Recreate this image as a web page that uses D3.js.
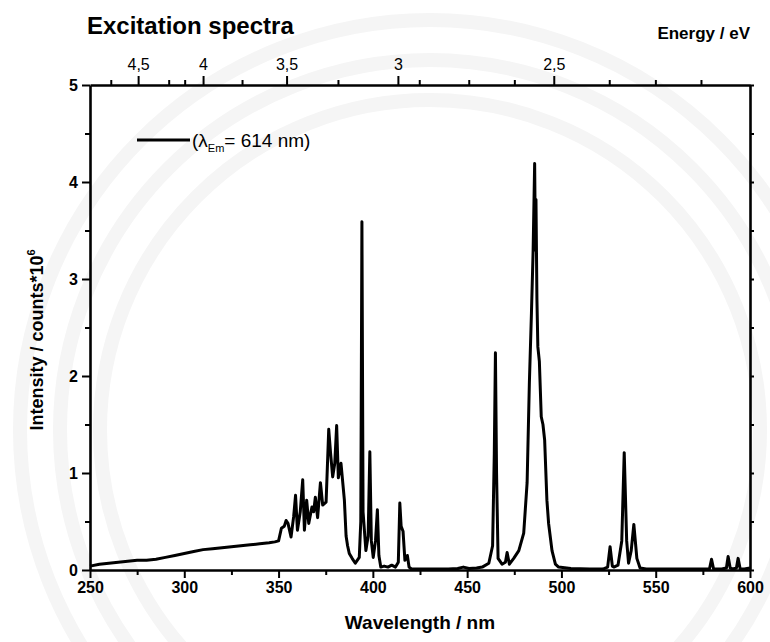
<!DOCTYPE html>
<html>
<head>
<meta charset="utf-8">
<script src="https://cdn.jsdelivr.net/npm/d3@7"></script>
<style>
  body { margin: 0; background: #fff; }
  svg { font-family: "Liberation Sans", Arial, sans-serif; }
</style>
</head>
<body>
<div id="chart"></div>
<script>
// spectrum: wavelength (nm) / intensity (counts*10^6)
const wavelength = [250,255,260,265,270,275,280,285,290,295,300,305,310,315,320,325,330,335,340,345,348,350,
  351.5,353,354,355,356.6,358,359,360,361.5,362.8,363.7,364.9,366,367.7,368.6,369.5,370.7,372.2,373.4,375.2,
  376.6,377.6,378.7,379.8,380.8,381.7,383.1,384.9,385.8,386.6,387.5,389,390.7,392.8,393.6,394.2,394.8,396.3,
  397.5,398.4,399.2,400.2,401.4,402.4,403.2,404.2,406,408,410,412,413.5,414.3,415,416,417,418.3,419.2,420.5,
  425,430,440,445,448,451,455,458,461.5,463.5,464.4,465,465.6,466.4,468.5,470.3,471.2,472.4,474.7,477.4,480,
  481.8,483,484.1,485,485.8,486.2,486.5,487,487.5,488.3,489.3,490.2,491.1,492.3,493.2,495,496.8,498.5,505,
  515,522,524.5,525.8,527,527.8,530,532,533.3,534.6,535.6,537,538.4,540,541.7,545,560,575,578.5,579.6,580.7,
  585,587.5,588.4,589.5,591,592.8,593.7,594.8,597,600];
const intensity = [0.04,0.06,0.07,0.08,0.09,0.10,0.10,0.11,0.13,0.15,0.17,0.19,0.21,0.22,0.23,0.24,0.25,0.26,0.27,0.28,0.29,0.30,
  0.43,0.45,0.51,0.48,0.34,0.55,0.77,0.41,0.60,0.93,0.41,0.72,0.48,0.65,0.60,0.75,0.54,0.90,0.67,0.70,
  1.45,1.20,0.96,1.10,1.49,0.95,1.10,0.72,0.35,0.25,0.17,0.12,0.07,0.13,0.50,3.59,0.60,0.20,
  0.35,1.22,0.30,0.13,0.30,0.62,0.15,0.03,0.04,0.03,0.05,0.03,0.08,0.69,0.45,0.40,0.10,0.15,0.03,0.01,
  0.01,0.01,0.01,0.015,0.03,0.015,0.02,0.03,0.07,0.25,1.20,2.24,1.00,0.12,0.06,0.08,0.18,0.06,0.12,0.20,0.38,
  0.90,1.93,2.65,3.30,4.19,3.30,3.82,2.80,2.30,2.15,1.58,1.50,1.34,0.72,0.48,0.20,0.06,0.03,0.015,
  0.01,0.01,0.03,0.24,0.04,0.03,0.05,0.30,1.21,0.30,0.07,0.20,0.47,0.12,0.02,0.01,0.01,0.01,0.01,0.11,0.01,
  0.01,0.02,0.14,0.02,0.01,0.02,0.12,0.01,0.01,0.02];

const xTicks = [250, 300, 350, 400, 450, 500, 550, 600];
const yTicks = [0, 1, 2, 3, 4, 5];
const energyMajor = [4.5, 4, 3.5, 3, 2.5];
const energyMinor = [4.75, 4.25, 4.13, 3.75, 3.25, 2.92, 2.75, 2.61, 2.36, 2.255, 2.16];
const hc = 1239.84; // eV*nm

const width = 770, height = 642;
const margin = {left: 90, right: 20, top: 85, bottom: 72};

const svg = d3.select("#chart").append("svg").attr("width", width).attr("height", height);

// faint watermark arcs
const wm = svg.append("g").attr("fill", "none").attr("stroke", "#f5f5f5");
[330, 370, 410].forEach(function (r) {
  wm.append("circle").attr("cx", 430).attr("cy", 430).attr("r", r).attr("stroke-width", 14);
});

var xScale = d3.scaleLinear().domain([250, 600]).range([margin.left, width - margin.right]);
var yScale = d3.scaleLinear().domain([0, 5]).range([height - margin.bottom, margin.top]);

// bottom axis
var gx = svg.append("g").attr("transform", "translate(0," + yScale(0) + ")")
  .call(d3.axisBottom(xScale).tickValues(xTicks).tickSize(8).tickSizeOuter(0).tickPadding(4));
svg.append("g").attr("transform", "translate(0," + yScale(0) + ")")
  .call(d3.axisBottom(xScale).tickValues(d3.range(275, 600, 50)).tickSize(5).tickFormat(""))
  .select(".domain").remove();

// left axis
var gy = svg.append("g").attr("transform", "translate(" + xScale(250) + ",0)")
  .call(d3.axisLeft(yScale).tickValues(yTicks).tickSize(8).tickSizeOuter(0).tickPadding(4).tickFormat(d3.format("d")));
svg.append("g").attr("transform", "translate(" + xScale(250) + ",0)")
  .call(d3.axisLeft(yScale).tickValues([0.5, 1.5, 2.5, 3.5, 4.5]).tickSize(5).tickFormat(""))
  .select(".domain").remove();

// right axis
svg.append("g").attr("transform", "translate(" + xScale(600) + ",0)")
  .call(d3.axisRight(yScale).tickValues(d3.range(0, 5.01, 0.5)).tickSize(4).tickSizeOuter(0).tickFormat(""));

// top axis, energy in eV
var fmtE = function (w) { return String(+(hc / w).toFixed(2)).replace(".", ","); };
var gt = svg.append("g").attr("transform", "translate(0," + yScale(5) + ")")
  .call(d3.axisTop(xScale).tickValues(energyMajor.map(function (e) { return hc / e; }))
    .tickSize(9).tickSizeOuter(0).tickPadding(6).tickFormat(fmtE));
svg.append("g").attr("transform", "translate(0," + yScale(5) + ")")
  .call(d3.axisTop(xScale).tickValues(energyMinor.map(function (e) { return hc / e; })).tickSize(5).tickFormat(""))
  .select(".domain").remove();

svg.selectAll(".domain").attr("stroke-width", 2.6).attr("stroke", "#000");
svg.selectAll(".tick line").attr("stroke-width", 2).attr("stroke", "#000");
gx.selectAll("text").attr("font-size", 16).attr("font-weight", "bold").attr("fill", "#000");
gy.selectAll("text").attr("font-size", 16).attr("font-weight", "bold").attr("fill", "#000");
gt.selectAll("text").attr("font-size", 16).attr("fill", "#000");

// spectrum
var points = wavelength.map(function (w, i) { return [w, intensity[i]]; });
svg.append("path").datum(points)
  .attr("fill", "none").attr("stroke", "#000").attr("stroke-width", 3).attr("stroke-linejoin", "round")
  .attr("d", d3.line().x(function (d) { return xScale(d[0]); }).y(function (d) { return yScale(d[1]); }));

// legend
svg.append("line").attr("x1", 137).attr("x2", 190).attr("y1", 140).attr("y2", 140)
  .attr("stroke", "#000").attr("stroke-width", 3);
var lg = svg.append("text").attr("x", 192).attr("y", 147).attr("font-size", 19);
lg.append("tspan").text("(\u03bb");
lg.append("tspan").attr("font-size", 11).attr("dy", 5).text("Em");
lg.append("tspan").attr("dy", -5).text("= 614 nm)");

// titles
svg.append("text").attr("x", 87).attr("y", 34).attr("font-size", 24).attr("font-weight", "bold")
  .text("Excitation spectra");
svg.append("text").attr("x", 750).attr("y", 39).attr("font-size", 17).attr("font-weight", "bold")
  .attr("text-anchor", "end").text("Energy / eV");
svg.append("text").attr("x", xScale(425)).attr("y", 629).attr("font-size", 19).attr("font-weight", "bold")
  .attr("text-anchor", "middle").text("Wavelength / nm");
var yl = svg.append("text").attr("transform", "translate(43," + 340 + ") rotate(-90)")
  .attr("font-size", 18).attr("font-weight", "bold").attr("text-anchor", "middle");
yl.append("tspan").text("Intensity / counts*10");
yl.append("tspan").attr("font-size", 11).attr("dy", -8).text("6");
</script>
</body>
</html>
